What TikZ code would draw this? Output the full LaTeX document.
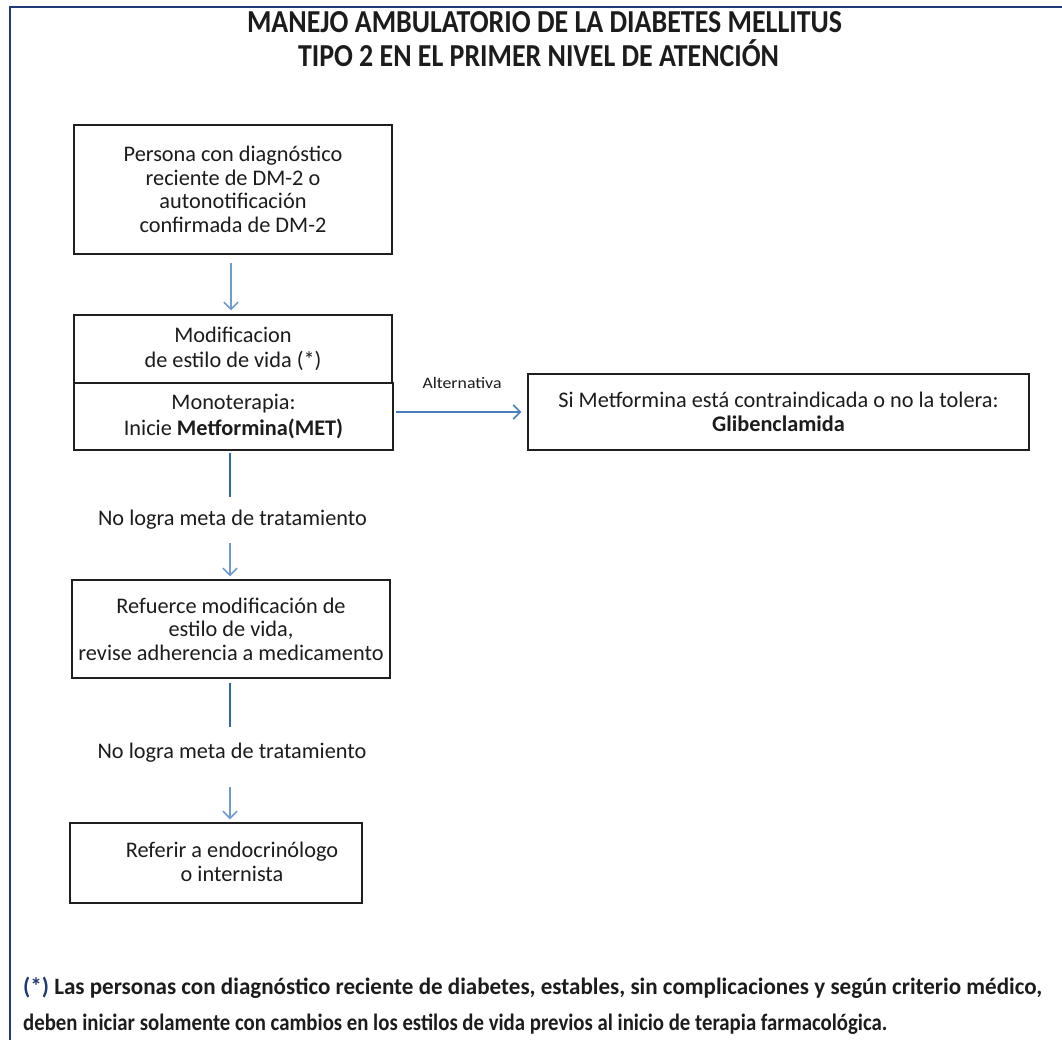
\documentclass[tikz,border=0pt]{standalone}
\usepackage{fontspec}
\setmainfont{Carlito}
\usetikzlibrary{arrows.meta}
\definecolor{frameblue}{HTML}{1F3A78}
\definecolor{flowlight}{HTML}{6E9BD1}
\definecolor{flowmid}{HTML}{4A7EBB}
\definecolor{flowdark}{HTML}{2F6AA8}
\definecolor{inkgray}{HTML}{1C1C1C}
% squeeze or stretch a line horizontally to a given width, keeping its height
\newcommand{\hfit}[2]{\resizebox{#1}{\height}{#2}}

\begin{document}
\begin{tikzpicture}[x=1pt,y=-1pt,
  box/.style={draw=black!88, line width=1.4pt, inner sep=0pt, align=center,
    text=inkgray, font=\fontsize{22.3}{23.5}\selectfont},
  lbl/.style={inner sep=0pt, align=center, text=inkgray, font=\fontsize{22.3}{23.5}\selectfont},
  small/.style={inner sep=0pt, text=inkgray, font=\fontsize{16}{18}\selectfont},
  flow/.style={draw=flowlight, line width=1.6pt,
    -{Straight Barb[length=7pt,width=14pt,line width=1.6pt]}},
  sideflow/.style={flow, draw=flowmid},
  stem/.style={draw=flowdark, line width=1.6pt},
]
\useasboundingbox (0,0) rectangle (1062,1040);
\fill[white] (0,0) rectangle (1062,1040);

% frame along the top and left edges
\draw[frameblue, line width=2.6pt] (10,1040) -- (10,7) -- (1062,7);

% title
\node[inner sep=0pt, anchor=base, text=inkgray] (t1) at (544.5,32.5)
  {\hfit{595pt}{\fontsize{32}{34}\selectfont\bfseries MANEJO AMBULATORIO DE LA DIABETES MELLITUS}};
\node[inner sep=0pt, anchor=base, text=inkgray] (t2) at (538.5,66.5)
  {\hfit{481pt}{\fontsize{32}{34}\selectfont\bfseries TIPO 2 EN EL PRIMER NIVEL DE ATENCIÓN}};

% flow boxes
\node[box, minimum width=318pt, minimum height=129pt] (b1) at (233,189.5)
  {Persona con diagnóstico\\reciente de DM-2 o\\autonotificación\\confirmada de DM-2};
\node[box, minimum width=318pt, minimum height=68pt] (b2) at (233,349)
  {Modificacion\\[2pt]de estilo de vida (*)};
\node[box, minimum width=319pt, minimum height=67pt] (b3) at (233.5,416.5)
  {Monoterapia:\\[2pt]Inicie \textbf{Metformina(MET)}};
\node[box, minimum width=501pt, minimum height=76pt] (bg) at (778.5,412)
  {Si Metformina está contraindicada o no la tolera:\\\textbf{Glibenclamida}};
\node[box, minimum width=318pt, minimum height=98pt] (b4) at (231,629)
  {Refuerce modificación de\\estilo de vida,\\revise adherencia a medicamento};
\node[box, minimum width=292pt, minimum height=80pt] (b5) at (216,863) {};
\node[lbl] (b5t) at (232,862) {Referir a endocrinólogo\\o internista};

% condition labels on the main axis
\node[lbl] (lab1) at (232.5,520) {No logra meta de tratamiento};
\node[lbl] (lab2) at (232,753) {No logra meta de tratamiento};
\node[small] (alt) at (462,383) {\hfit{79pt}{Alternativa}};

% connectors
\draw[flow, shorten <=8pt, shorten >=4pt] ([xshift=-2pt]b1.south) -- ([xshift=-2pt]b2.north);
\draw[sideflow, shorten <=2pt, shorten >=6pt] (b3.east |- bg.west) -- (bg.west);
\draw[stem, shorten <=2pt] ([xshift=-3.5pt]b3.south) -- ([xshift=-2.5pt,yshift=23pt]lab1.center);
\draw[flow, shorten >=3pt] ([xshift=-2.5pt,yshift=-23pt]lab1.center) -- ([xshift=-1pt]b4.north);
\draw[stem, shorten <=4pt] ([xshift=-1pt]b4.south) -- ([xshift=-2pt,yshift=26pt]lab2.center);
\draw[flow, shorten >=3pt] ([xshift=-2pt,yshift=-34pt]lab2.center) -- ([xshift=14pt]b5.north);

% footnote
\node[inner sep=0pt, anchor=base west, text=inkgray] (fn1) at (23,994.5)
  {\hfit{1019pt}{\fontsize{23.5}{26}\selectfont\bfseries\textcolor{frameblue}{(*)} Las personas con diagnóstico reciente de diabetes, estables, sin complicaciones y según criterio médico,}};
\node[inner sep=0pt, anchor=base west, text=inkgray] (fn2) at (23,1030)
  {\hfit{864pt}{\fontsize{23.5}{26}\selectfont\bfseries deben iniciar solamente con cambios en los estilos de vida previos al inicio de terapia farmacológica.}};
\end{tikzpicture}
\end{document}
